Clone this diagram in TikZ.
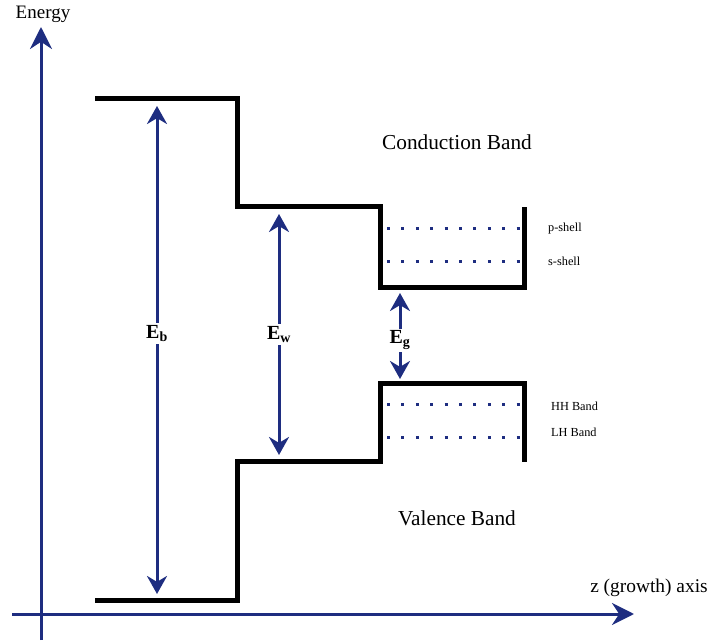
\documentclass[tikz,border=0pt]{standalone}
\usepackage{fontspec}
\setmainfont{Liberation Serif}
\usetikzlibrary{arrows.meta}
\definecolor{axisblue}{RGB}{30,45,128}
\tikzset{
  band/.style={line width=5pt, line cap=rect},
  axis/.style={axisblue, line width=3pt, -{Stealth[length=22pt,width=22pt]}},
  gap/.style={axisblue, line width=3pt, {Stealth[length=18pt,width=20pt]}-{Stealth[length=18pt,width=20pt]}},
  level/.style={axisblue, line width=3pt, dash pattern=on 3pt off 11.4pt},
  small/.style={font=\fontsize{12.3}{14}\selectfont, anchor=west, inner sep=0pt},
  big/.style={font=\fontsize{21.3}{24}\selectfont},
  gaplabel/.style={text=black, font=\fontsize{20}{23}\selectfont\bfseries, fill=white, inner sep=2pt}
}
\begin{document}
\begin{tikzpicture}[x=1pt, y=-1pt]
    \useasboundingbox (0,0) rectangle (710,644);
    % axes
    \coordinate (ybot) at (41,640);
    \coordinate (ytop) at (41,27);
    \coordinate (xleft) at (12,614);
    \coordinate (xright) at (634,614);
    \draw[axis] (ybot) -- (ytop);
    \draw[axis] (xleft) -- (xright);
    \node[font=\fontsize{19}{22}\selectfont] (energy) at (43,14) {Energy};
    \node[font=\fontsize{19.4}{22}\selectfont] (zaxis) at (649,588) {z (growth) axis};

    % conduction band profile
    \coordinate (c1) at (97,99);
    \coordinate (c2) at (237,99);
    \coordinate (c3) at (237,207);
    \coordinate (c4) at (380,207);
    \coordinate (c5) at (380,288);
    \coordinate (c6) at (524,288);
    \coordinate (c7) at (524,210);
    \draw[band] (c1) -- (c2) -- (c3) -- (c4) -- (c5) -- (c6) -- (c7);

    % valence band profile
    \coordinate (v1) at (97,600);
    \coordinate (v2) at (237,600);
    \coordinate (v3) at (237,461);
    \coordinate (v4) at (380,461);
    \coordinate (v5) at (380,384);
    \coordinate (v6) at (524,384);
    \coordinate (v7) at (524,459);
    \draw[band] (v1) -- (v2) -- (v3) -- (v4) -- (v5) -- (v6) -- (v7);

    % confined levels
    \coordinate (p0) at (387,229);   \coordinate (p1) at (520,229);
    \coordinate (s0) at (387,262);   \coordinate (s1) at (520,262);
    \coordinate (hh0) at (387,405);  \coordinate (hh1) at (520,405);
    \coordinate (lh0) at (387,437);  \coordinate (lh1) at (520,437);
    \draw[level] (p0) -- (p1);
    \draw[level] (s0) -- (s1);
    \draw[level] (hh0) -- (hh1);
    \draw[level] (lh0) -- (lh1);
    \node[small] (pshell) at (548,229) {p-shell};
    \node[small] (sshell) at (548,261) {s-shell};
    \node[small] (hhband) at (551,406) {HH Band};
    \node[small] (lhband) at (551,432) {LH Band};

    \node[big] (cb) at (457,142) {Conduction Band};
    \node[big] (vb) at (457,518) {Valence Band};

    % energy gaps
    \coordinate (eb0) at (157,106);  \coordinate (eb1) at (157,594);
    \coordinate (ew0) at (279,214);  \coordinate (ew1) at (279,455);
    \coordinate (eg0) at (400,293);  \coordinate (eg1) at (400,379);
    \draw[gap] (eb0) -- (eb1) node[gaplabel, pos=0.466] (eb) {E$_{\mathbf{b}}$};
    \draw[gap] (ew0) -- (ew1) node[gaplabel, pos=0.5] (ew) {E$_{\mathbf{w}}$};
    \draw[gap] (eg0) -- (eg1) node[gaplabel, pos=0.55] (eg) {E$_{\mathbf{g}}$};
\end{tikzpicture}
\end{document}
